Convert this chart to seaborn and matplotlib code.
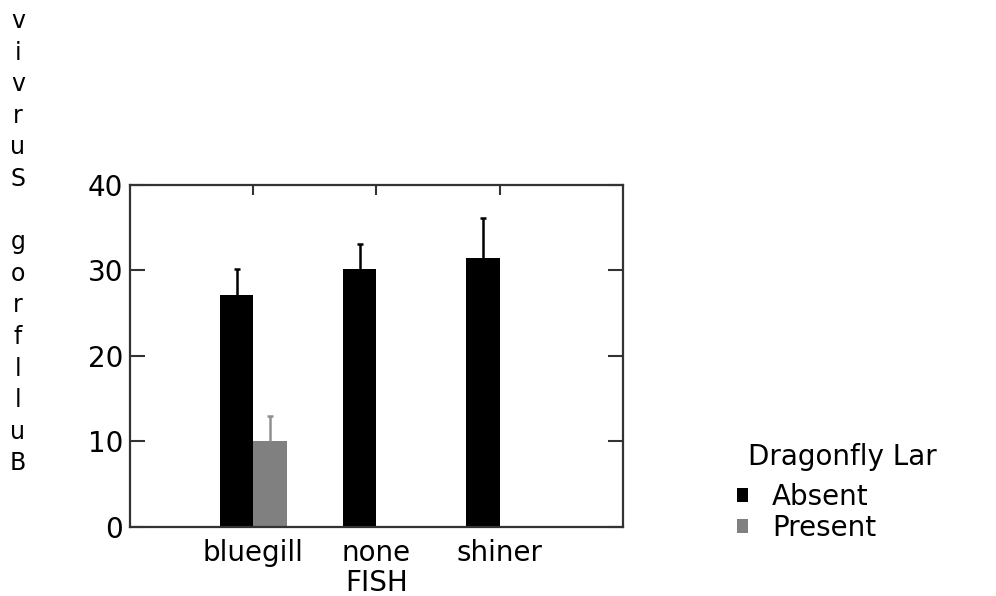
import seaborn as sns
import matplotlib.pyplot as plt
import pandas as pd

sns.set_style("ticks")
plt.rcParams['font.family'] = ['DejaVu Sans']
plt.rcParams['text.color'] = 'black'
plt.rcParams['xtick.color'] = 'black'
plt.rcParams['ytick.color'] = 'black'
plt.rcParams['axes.labelcolor'] = 'black'

# data
fish = ["bluegill", "bluegill", "none", "none", "shiner", "shiner"]
dragonfly = ["Absent", "Present", "Absent", "Present", "Absent", "Present"]
survival = [27.1, 10.0, 30.2, 0.0, 31.5, 0.0]
err_up = [3.1, 3.0, 2.9, 0.0, 4.6, 0.0]

df = pd.DataFrame({"FISH": fish, "Dragonfly": dragonfly,
                   "Survival": survival, "err": err_up})

colors = {"Absent": "black", "Present": "#808080"}
ecolors = {"Absent": "black", "Present": "#909090"}

fig = plt.figure(figsize=(9.96, 5.96), dpi=100)
ax = fig.add_axes([0.1305, 0.1158, 0.4950, 0.5738])

sns.barplot(data=df, x="FISH", y="Survival", hue="Dragonfly",
            palette=colors, width=0.54, errorbar=None, ax=ax,
            saturation=1, linewidth=0)

# one-sided error bars (upper only, cap on top)
levels = ["Absent", "Present"]
cats = ["bluegill", "none", "shiner"]
for lvl, cont in zip(levels, ax.containers):
    for cat, bar in zip(cats, cont):
        row = df[(df.FISH == cat) & (df.Dragonfly == lvl)].iloc[0]
        if row.err <= 0:
            continue
        xc = bar.get_x() + bar.get_width() / 2
        top = row.Survival + row.err
        ax.vlines(xc, row.Survival, top, color=ecolors[lvl], lw=1.8, zorder=3)
        half = bar.get_width() * 0.09
        ax.hlines(top, xc - half, xc + half, color=ecolors[lvl], lw=1.8,
                  zorder=3)

ax.set_xlim(-1, 3)
ax.set_ylim(0, 40)
ax.set_yticks([0, 10, 20, 30, 40])
ax.set_xlabel("FISH", fontsize=20, labelpad=1)
ax.set_ylabel("")
ax.tick_params(axis="both", direction="in", labelsize=20, color="#333333",
               width=1.5, top=True, right=True)
ax.tick_params(axis="y", length=11, pad=5)
ax.tick_params(axis="x", length=7, pad=9, bottom=False)
for sp in ax.spines.values():
    sp.set_linewidth(1.6)
    sp.set_color("#333333")

# stacked-letter y label as in the original
fig.text(0.018, 0.985, "v\ni\nv\nr\nu\nS\n \ng\no\nr\nf\nl\nl\nu\nB",
         ha="center", va="top", fontsize=17, linespacing=1.4,
         multialignment="center")

# legend title as its own text, legend entries below it
fig.text(748 / 996, 1 - 457 / 596, "Dragonfly Lar", fontsize=20,
         ha="left", va="center")
sns.move_legend(ax, loc="center left", bbox_to_anchor=(0.740, 0.140),
                bbox_transform=fig.transFigure, frameon=False, title=None,
                fontsize=20, handlelength=0.4, handleheight=0.4,
                handletextpad=0.85, labelspacing=0.1, borderpad=0,
                borderaxespad=0)

fig.savefig("out.png", dpi=100)
